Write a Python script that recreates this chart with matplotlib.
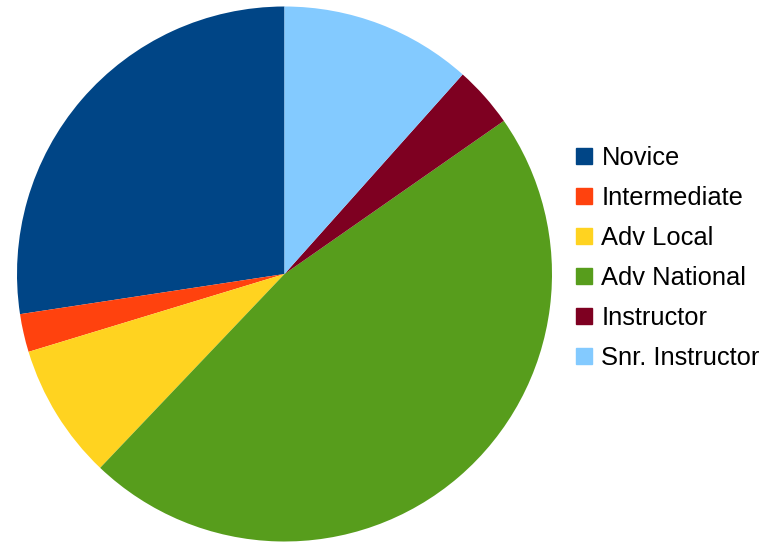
import matplotlib.pyplot as plt
from matplotlib.lines import Line2D

plt.rcParams['font.family'] = ['Liberation Sans', 'DejaVu Sans']

# share of members per grade (percent)
grades = ["Novice", "Intermediate", "Adv Local", "Adv National", "Instructor", "Snr. Instructor"]
shares = [27.4, 2.3, 8.2, 46.8, 3.7, 11.6]
colours = ["#004586", "#ff420e", "#ffd320", "#579d1c", "#7e0021", "#83caff"]

fig = plt.figure(figsize=(7.75, 5.42), dpi=100)
ax = fig.add_axes([17.0 / 775, 0.5 / 542, 535.0 / 775, 535.0 / 542])
ax.pie(shares, colors=colours, startangle=90, counterclock=True,
       wedgeprops=dict(linewidth=0))
ax.set_xlim(-1, 1)
ax.set_ylim(-1, 1)
ax.set_aspect('equal')

handles = [Line2D([], [], linestyle='none', marker='s', markersize=11.5,
                  markerfacecolor=c, markeredgecolor=c) for c in colours]
fig.legend(handles, grades, loc='center left', bbox_to_anchor=(560.5 / 775, 1 - 258.0 / 542),
           frameon=False, fontsize=18.4, handlelength=0.8, handletextpad=0.3,
           labelspacing=0.62, borderpad=0)

fig.savefig("out.png", dpi=100)
